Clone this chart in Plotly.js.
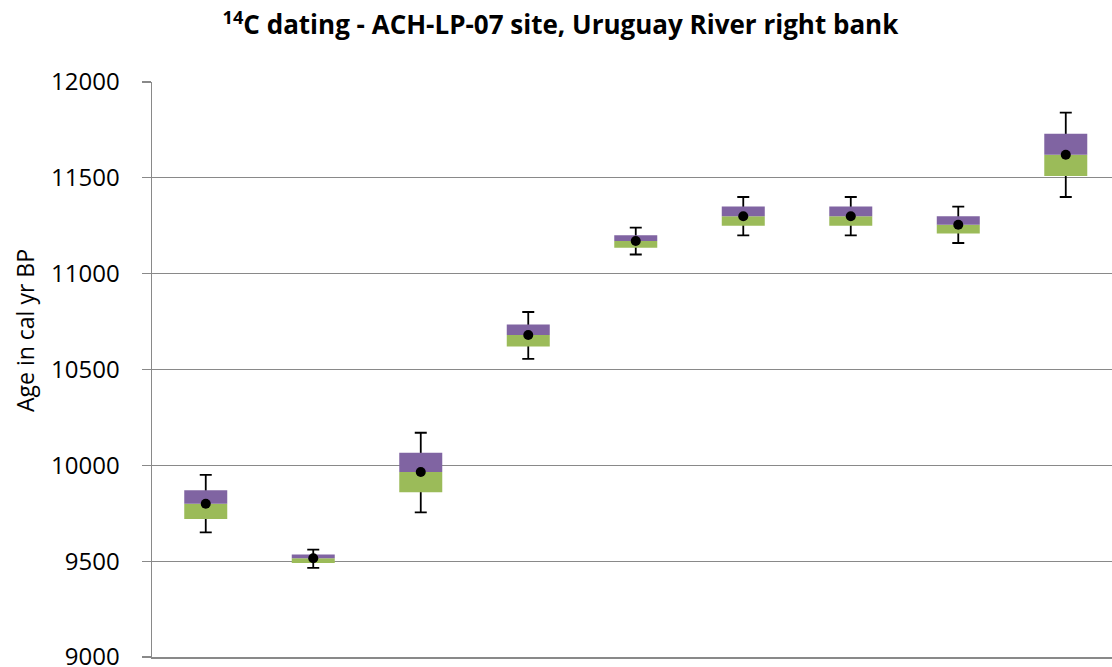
<!DOCTYPE html>
<html>
<head>
<meta charset="utf-8">
<script src="https://cdn.plot.ly/plotly-3.0.1.min.js"></script>
<style>html,body{margin:0;padding:0;background:#fff;overflow:hidden;}</style>
</head>
<body>
<div id="chart" style="width:1112px;height:667px;"></div>
<script>
// Sample index along the x axis (labels not shown in the reference)
var samples = ["1", "2", "3", "4", "5", "6", "7", "8", "9"];
// Calibrated ages (cal yr BP)
var minAge = [9650, 9465, 9755, 10555, 11100, 11200, 11200, 11160, 11400];
var q1Age  = [9720, 9490, 9860, 10620, 11135, 11250, 11250, 11210, 11510];
var medAge = [9800, 9515, 9965, 10680, 11170, 11300, 11300, 11255, 11620];
var q3Age  = [9870, 9535, 10065, 10735, 11200, 11350, 11350, 11300, 11730];
var maxAge = [9950, 9560, 10170, 10800, 11240, 11400, 11400, 11350, 11840];
var yTickVals = [9000, 9500, 10000, 10500, 11000, 11500, 12000];
var yTickText = ["9000", "9500", "10000", "10500", "11000", "11500", "12000"];

var lowerSize = medAge.map(function (m, i) { return m - q1Age[i]; });
var upperSize = q3Age.map(function (q, i) { return q - medAge[i]; });
var boxSize = q3Age.map(function (q, i) { return q - q1Age[i]; });
var whiskUp = maxAge.map(function (m, i) { return m - q3Age[i]; });
var whiskDown = minAge.map(function (m, i) { return q3Age[i] - m; });

var traces = [
  {
    type: 'bar', x: samples, y: boxSize, base: q1Age, width: 0.4,
    marker: {color: 'rgba(0,0,0,0)', line: {width: 0}},
    error_y: {type: 'data', symmetric: false, array: whiskUp, arrayminus: whiskDown,
              color: '#000000', thickness: 1.8, width: 6},
    hoverinfo: 'skip', showlegend: false
  },
  {
    type: 'bar', x: samples, y: lowerSize, base: q1Age, width: 0.4,
    marker: {color: '#9BBB59', line: {width: 0}}, showlegend: false
  },
  {
    type: 'bar', x: samples, y: upperSize, base: medAge, width: 0.4,
    marker: {color: '#8064A2', line: {width: 0}}, showlegend: false
  },
  {
    type: 'scatter', mode: 'markers', x: samples, y: medAge,
    marker: {color: '#000000', size: 10}, showlegend: false
  }
];

var layout = {
  width: 1112, height: 667,
  margin: {l: 152, r: 0, t: 82, b: 10, pad: 0},
  paper_bgcolor: '#ffffff', plot_bgcolor: '#ffffff',
  barmode: 'overlay',
  showlegend: false,
  title: {
    text: '<b><sup>14</sup>C dating - ACH-LP-07 site, Uruguay River right bank</b>',
    font: {family: 'Open Sans, sans-serif', size: 26, color: '#000000'},
    x: 0.504, xanchor: 'center', xref: 'container',
    y: 0.962, yanchor: 'middle', yref: 'container'
  },
  xaxis: {
    type: 'category', range: [-0.5, 8.43],
    showticklabels: false, ticks: '', showgrid: false, zeroline: false,
    showline: true, linecolor: '#898989', linewidth: 1.5
  },
  yaxis: {
    range: [9000, 12000], tickmode: 'array', tickvals: yTickVals, ticktext: yTickText,
    ticks: 'outside', ticklen: 9, tickwidth: 1.3, tickcolor: '#898989',
    ticklabelstandoff: 17, ticklabeloverflow: 'allow',
    showline: true, linecolor: '#898989', linewidth: 1.5,
    showgrid: true, gridcolor: '#898989', gridwidth: 1.3, zeroline: false,
    tickfont: {family: 'Open Sans, sans-serif', size: 24, color: '#000000'}
  },
  annotations: [{
    text: 'Age in cal yr BP', textangle: -90,
    xref: 'paper', yref: 'paper',
    x: (25 - 152) / 960, y: (657 - 331) / 575,
    xanchor: 'center', yanchor: 'middle', showarrow: false,
    font: {family: 'Open Sans, sans-serif', size: 23, color: '#000000'}
  }]
};

Plotly.newPlot('chart', traces, layout, {displayModeBar: false, staticPlot: true});
</script>
</body>
</html>
